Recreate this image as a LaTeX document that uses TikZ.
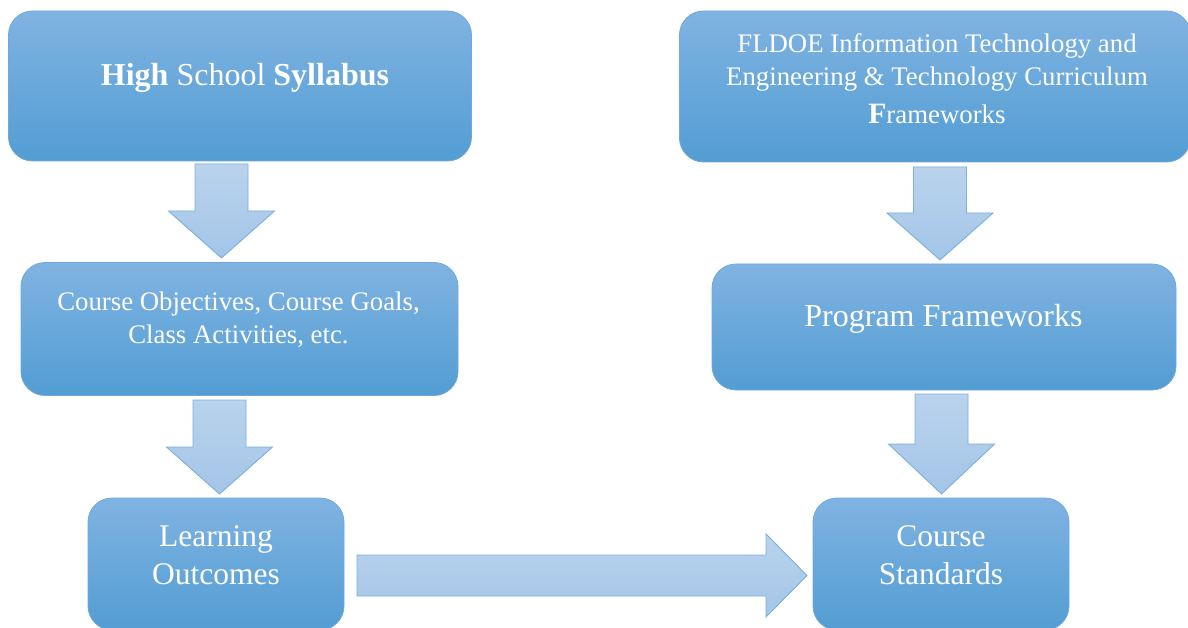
\documentclass[tikz,border=0pt]{standalone}
\usepackage{fontspec}
\setmainfont{Liberation Serif}
\definecolor{boxtop}{RGB}{128,179,226}
\definecolor{boxmid}{RGB}{101,170,224}
\definecolor{boxbot}{RGB}{82,157,211}
\definecolor{boxline}{RGB}{112,168,219}
\definecolor{arrtop}{RGB}{186,211,236}
\definecolor{arrbot}{RGB}{163,197,232}
\definecolor{arrline}{RGB}{122,175,222}
\tikzset{
  blockbox/.style={draw=boxline, line width=0.8pt, rounded corners=24pt,
    top color=boxtop, middle color=boxmid, bottom color=boxbot,
    inner sep=0pt, outer sep=0pt},
  boxtext/.style={text=white, inner sep=0pt, anchor=base, align=center},
  blockarrow/.style={draw=arrline, line width=0.9pt, top color=arrtop, bottom color=arrbot, line join=miter}
}
\newcommand\vblk[4]{% center x, top y, head-base y, tip y
  \draw[blockarrow] (#1-26.5,#2) -- (#1+26.5,#2) -- (#1+26.5,#3) -- (#1+53,#3) -- (#1,#4)
     -- (#1-53,#3) -- (#1-26.5,#3) -- cycle;}
\begin{document}
\begin{tikzpicture}[x=1pt,y=-1pt]
\useasboundingbox (0,0) rectangle (1188,628);
\clip (0,0) rectangle (1188,628);
\fill[white] (0,0) rectangle (1188,628);
% boxes
\node[blockbox, minimum width=463pt, minimum height=150pt] (b1) at (240,86) {};
\node[blockbox, minimum width=511pt, minimum height=151pt] (b2) at (935,86.5) {};
\node[blockbox, minimum width=437pt, minimum height=133pt] (b3) at (239.5,329) {};
\node[blockbox, minimum width=464pt, minimum height=126pt] (b4) at (944,327) {};
\node[blockbox, minimum width=256pt, minimum height=132pt] (b5) at (216,564) {};
\node[blockbox, minimum width=256pt, minimum height=132pt] (b6) at (941,564) {};
% texts (anchor=base is the baseline of the last line)
\node[boxtext, font=\fontsize{32}{38}\selectfont] (t1) at (245,86)
  {\textbf{High} School \textbf{Syllabus}};
\node[boxtext, font=\fontsize{26.8}{33}\selectfont] (t2) at (937,124)
  {FLDOE Information Technology and\\ Engineering \& Technology Curriculum\\[5pt]
   {\fontsize{29.5}{33}\selectfont\textbf{F}}rameworks};
\node[boxtext, font=\fontsize{26.8}{33}\selectfont] (t3) at (238.5,343)
  {Course Objectives, Course Goals,\\ Class Activities, etc.};
\node[boxtext, font=\fontsize{32}{38}\selectfont] (t4) at (943.5,326)
  {Program Frameworks};
\node[boxtext, font=\fontsize{31.5}{38}\selectfont] (t5) at (216,584)
  {Learning\\ Outcomes};
\node[boxtext, font=\fontsize{31.5}{38}\selectfont] (t6) at (941,584)
  {Course\\ Standards};
% block arrows
\vblk{221.5}{164}{211}{258}
\vblk{940}{167}{213}{260}
\vblk{219.5}{400}{447}{494}
\vblk{941.5}{394}{444}{494}
\draw[blockarrow] (357,555) -- (766,555) -- (766,534) -- (807,575.5) -- (766,617)
   -- (766,596) -- (357,596) -- cycle;
\end{tikzpicture}
\end{document}
